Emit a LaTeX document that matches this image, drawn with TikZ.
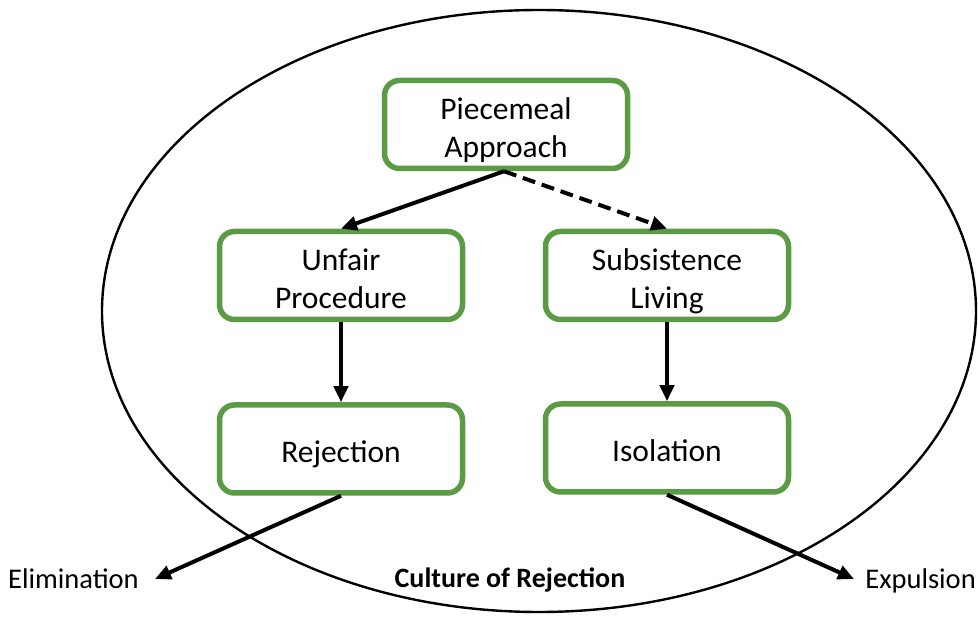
\documentclass[tikz,border=0pt]{standalone}
\usepackage{fontspec}
\setmainfont{Carlito}
\usetikzlibrary{arrows.meta}
\definecolor{boxgreen}{RGB}{90,155,68}
% stacked box text with a fixed strut so every box places its lines alike
\newcommand{\boxlines}[1]{\begin{tabular}{@{}c@{}}\rule{0pt}{38.6pt}#1\end{tabular}}
\begin{document}
\begin{tikzpicture}[x=1pt,y=-1pt,
  stagebox/.style={draw=boxgreen,line width=5.5pt,rounded corners=15pt,fill=white,
    minimum width=243pt,minimum height=88pt,align=center,
    font=\fontsize{31.5}{38}\selectfont,inner sep=0pt},
  flow/.style={line width=4pt,-{Triangle[length=16pt,width=14pt]}},
  outcome/.style={font=\fontsize{28.5}{34}\selectfont,inner sep=0pt}]
\useasboundingbox (0,0) rectangle (978,617);
% enclosing culture ellipse
\draw[line width=2.4pt] (539,311) ellipse [x radius=437, y radius=301];
% stages
\node[stagebox] (pa) at (506,124.5) {\boxlines{Piecemeal\\Approach}};
\node[stagebox] (uf) at (341,275.5) {\boxlines{Unfair\\Procedure}};
\node[stagebox] (sl) at (667,275.5) {\boxlines{Subsistence\\Living}};
\node[stagebox] (rj) at (341,449) {\boxlines{Rejection}};
\node[stagebox] (is) at (667,448) {\boxlines{Isolation}};
% outcomes and caption
\node[outcome,anchor=base west] (el) at (8,588) {Elimination};
\node[outcome,anchor=base east] (ex) at (976,588) {Expulsion};
\node[font=\fontsize{28}{33}\selectfont\bfseries,inner sep=0pt,anchor=base] (cr) at (510,587) {Culture of Rejection};
\coordinate (elend) at (155,579);
\coordinate (exend) at (854,579);
% connectors
\draw[flow] ([xshift=-2pt]pa.south) -- (uf.north);
\draw[flow,dash pattern=on 13pt off 7pt] ([xshift=-2pt]pa.south) -- (sl.north);
\draw[flow] (uf.south) -- (rj.north);
\draw[flow] (sl.south) -- (is.north);
\draw[flow] (rj.south) -- (elend);
\draw[flow] (is.south) -- (exend);
\end{tikzpicture}
\end{document}
